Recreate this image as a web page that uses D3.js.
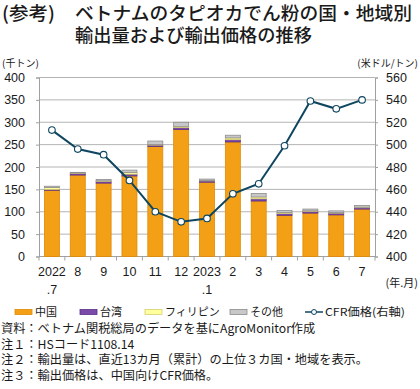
<!DOCTYPE html>
<html><head><meta charset="utf-8">
<script src="https://cdn.jsdelivr.net/npm/d3@7"></script>
<style>
html,body{margin:0;padding:0;background:#fff;}
svg{display:block;}
text{font-family:"Liberation Sans","Noto Sans CJK JP",sans-serif;fill:#1a1a1a;}
.jp{font-family:"Noto Sans CJK JP","Liberation Sans",sans-serif;}
</style></head><body>
<script>
const months = ["2022\n.7","8","9","10","11","12","2023\n.1","2","3","4","5","6","7"];
const china = [148,182,164,180,246,284,166,256,124,92,97,93,106];
const taiwan = [2,4,4,4,3,4,3,5,5,4,4,4,3];
const philippines = [4,1,1,4,1,2,1,4,4,2,1,1,1];
const others = [3,1,3,5,8,10,3,6,8,5,4,4,4];
const cfrPrice = [513,496,491,468,440,431,434,456,465,499,539,532,540];
const leftTicks = [0,50,100,150,200,250,300,350,400];
const rightTicks = [400,420,440,460,480,500,520,540,560];
const seriesNames = ["中国","台湾","フィリピン","その他"];
const seriesColors = ["#F4A017","#7B4BA8","#FFFF9E","#C8C8C8"];
const seriesStroke = ["#E08A00","#5A2E8A","#D8D070","#8C8C8C"];

const W=420,H=389;
const svg=d3.select("body").append("svg").attr("width",W).attr("height",H);
const m={l:39,r:375,t:77.5,b:256.5};
const x=d3.scaleBand().domain(d3.range(months.length)).range([m.l,m.r]).paddingInner(0.42).paddingOuter(0.21);
const xb=d3.scaleBand().domain(d3.range(months.length)).range([m.l,m.r]);
const yL=d3.scaleLinear().domain([0,400]).range([m.b,m.t]);
const yR=d3.scaleLinear().domain([400,560]).range([m.b,m.t]);

// title
svg.append("text").attr("class","jp").attr("x",2).attr("y",20).attr("font-size",18.5).attr("font-weight",500)
  .attr("textLength",53).attr("lengthAdjust","spacingAndGlyphs").text("(参考)");
svg.append("text").attr("class","jp").attr("x",75).attr("y",20).attr("font-size",18.5).attr("font-weight",500)
  .attr("textLength",337).attr("lengthAdjust","spacingAndGlyphs").text("ベトナムのタピオカでん粉の国・地域別");
svg.append("text").attr("class","jp").attr("x",75).attr("y",42).attr("font-size",18.5).attr("font-weight",500)
  .attr("textLength",237).attr("lengthAdjust","spacingAndGlyphs").text("輸出量および輸出価格の推移");

svg.append("text").attr("class","jp").attr("x",2).attr("y",67).attr("font-size",10).text("(千トン)");
svg.append("text").attr("class","jp").attr("x",418).attr("y",67).attr("font-size",10).attr("text-anchor","end").text("(米ドル/トン)");

// grid
svg.append("g").selectAll("line").data(leftTicks.slice(1)).join("line")
  .attr("x1",m.l).attr("x2",m.r).attr("y1",d=>yL(d)).attr("y2",d=>yL(d))
  .attr("stroke","#b4b4b4").attr("stroke-width",1);

// axes
const gL=svg.append("g").attr("transform",`translate(${m.l},0)`)
  .call(d3.axisLeft(yL).tickValues(leftTicks).tickSize(3).tickPadding(11));
gL.select(".domain").attr("stroke","#a0a0a0");
gL.selectAll(".tick line").attr("stroke","#a0a0a0");
gL.selectAll("text").attr("font-size",12.5).attr("fill","#1a1a1a").style("font-family","Liberation Sans");
const gR=svg.append("g").attr("transform",`translate(${m.r},0)`)
  .call(d3.axisRight(yR).tickValues(rightTicks).tickSize(3).tickPadding(8));
gR.select(".domain").attr("stroke","#a0a0a0");
gR.selectAll(".tick line").attr("stroke","#a0a0a0");
gR.selectAll("text").attr("font-size",12.5).attr("fill","#1a1a1a").style("font-family","Liberation Sans");

// bottom axis
svg.append("line").attr("x1",m.l).attr("x2",m.r).attr("y1",m.b).attr("y2",m.b).attr("stroke","#a0a0a0");
svg.append("g").selectAll("line").data(d3.range(months.length+1)).join("line")
  .attr("x1",i=>m.l+i*xb.bandwidth()).attr("x2",i=>m.l+i*xb.bandwidth())
  .attr("y1",m.b).attr("y2",m.b+4).attr("stroke","#a0a0a0");
const xl=svg.append("g");
months.forEach((mo,i)=>{
  const parts=mo.split("\n");
  parts.forEach((p,j)=>{
    xl.append("text").attr("x",xb(i)+xb.bandwidth()/2).attr("y",276+j*18)
      .attr("text-anchor","middle").attr("font-size",12.5).text(p);
  });
});
svg.append("text").attr("class","jp").attr("x",418).attr("y",287).attr("text-anchor","end").attr("font-size",11).text("(年.月)");

// stacked bars
const data=months.map((d,i)=>({i,v:[china[i],taiwan[i],philippines[i],others[i]]}));
const bars=svg.append("g");
data.forEach(d=>{
  let acc=0;
  d.v.forEach((v,k)=>{
    const y0=yL(acc),y1=yL(acc+v);
    bars.append("rect").attr("x",x(d.i)).attr("width",x.bandwidth())
      .attr("y",y1).attr("height",Math.max(0,y0-y1))
      .attr("fill",seriesColors[k]).attr("stroke",seriesStroke[k]).attr("stroke-width",0.8);
    acc+=v;
  });
});

// line
const lineColor="#0E4660";
const line=d3.line().x((d,i)=>xb(i)+xb.bandwidth()/2).y(d=>yR(d));
svg.append("path").datum(cfrPrice).attr("d",line).attr("fill","none").attr("stroke",lineColor).attr("stroke-width",2);
svg.append("g").selectAll("circle").data(cfrPrice).join("circle")
  .attr("cx",(d,i)=>xb(i)+xb.bandwidth()/2).attr("cy",d=>yR(d)).attr("r",3.3)
  .attr("fill","#fff").attr("stroke",lineColor).attr("stroke-width",1.1);

// legend
const lg=svg.append("g");
const legX=[15,80,145,230];
const legY=312;
seriesNames.forEach((n,k)=>{
  lg.append("rect").attr("x",legX[k]).attr("y",legY-2.5).attr("width",17).attr("height",5)
    .attr("fill",seriesColors[k]).attr("stroke",seriesStroke[k]).attr("stroke-width",0.8);
  lg.append("text").attr("class","jp").attr("x",legX[k]+20).attr("y",legY+4).attr("font-size",11).text(n);
});
lg.append("line").attr("x1",305).attr("x2",323).attr("y1",legY).attr("y2",legY).attr("stroke",lineColor).attr("stroke-width",1.5);
lg.append("circle").attr("cx",314).attr("cy",legY).attr("r",2.5).attr("fill","#fff").attr("stroke",lineColor).attr("stroke-width",1);
lg.append("text").attr("class","jp").attr("x",325).attr("y",legY+4).attr("font-size",11)
  .attr("textLength",80).attr("lengthAdjust","spacingAndGlyphs").text("CFR価格(右軸)");

// notes
const notes=["資料：ベトナム関税総局のデータを基にAgroMonitor作成","注１：HSコード1108.14","注２：輸出量は、直近13カ月（累計）の上位３カ国・地域を表示。","注３：輸出価格は、中国向けCFR価格。"];
svg.append("g").selectAll("text").data(notes).join("text").attr("class","jp")
  .attr("x",1).attr("y",(d,i)=>333+i*15.6).attr("font-size",12.2).text(d=>d);
</script>
</body></html>
